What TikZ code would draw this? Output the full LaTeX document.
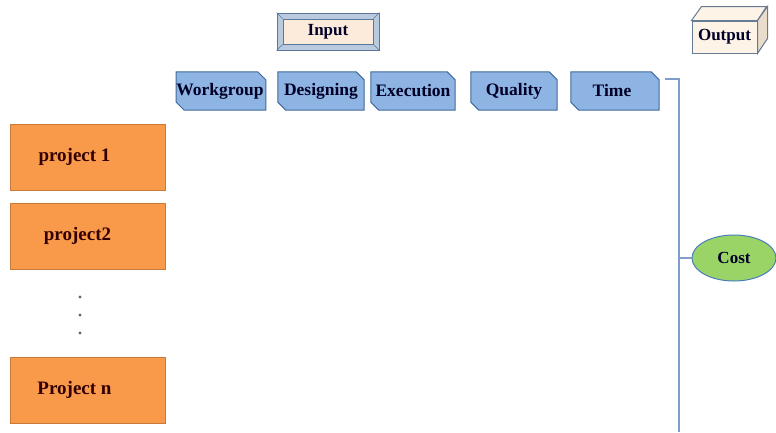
\documentclass[tikz,border=0pt]{standalone}
\usepackage{fontspec}
\setmainfont{Liberation Serif}
\usetikzlibrary{shapes.geometric,calc,backgrounds}
\definecolor{tabfill}{HTML}{8EB4E3}
\definecolor{tabline}{HTML}{41699B}
\definecolor{projfill}{HTML}{F9994A}
\definecolor{projline}{HTML}{C87A3A}
\definecolor{costfill}{HTML}{9BD466}
\definecolor{costline}{HTML}{4A7EBB}
\definecolor{brline}{HTML}{7F9CCB}
\definecolor{peach}{HTML}{FCEADB}
\definecolor{cubefront}{HTML}{FDF3E7}
\definecolor{cubeside}{HTML}{E9DCCB}
\definecolor{bevel}{HTML}{B9CADF}
\definecolor{btnline}{HTML}{5A789C}
\tikzset{
  tabbox/.style={rectangle, minimum height=38pt, inner sep=0pt,
    font=\fontsize{17.5}{19}\selectfont\bfseries, text=black!85!blue},
  tabshape/.style={draw=tabline, line width=1pt, fill=tabfill},
  projbox/.style={rectangle, draw=projline, line width=1pt, fill=projfill, minimum width=155pt,
    minimum height=66pt, inner sep=0pt, font=\fontsize{19}{21}\selectfont\bfseries, text=black!80!red},
  conn/.style={draw=brline, line width=2pt},
  lbl/.style={font=\fontsize{17}{19}\selectfont\bfseries, text=black!85!blue}
}
\begin{document}
\begin{tikzpicture}[x=1pt,y=-1pt]
\useasboundingbox (0,0) rectangle (776,432);
% Input button
\node[draw=btnline, line width=1pt, fill=bevel, minimum width=102pt, minimum height=37pt, inner sep=0pt] (inout) at (328,31.5) {};
\node[draw=btnline, line width=0.8pt, fill=peach, minimum width=90pt, minimum height=25pt, inner sep=0pt, lbl] (input) at (328,31.5) {Input};
\foreach \c in {north west,north east,south west,south east}
  \draw[btnline, line width=0.6pt] (inout.\c) -- (input.\c);
% Output cube
\node[draw=btnline!70!gray, line width=1pt, fill=cubefront, minimum width=65pt, minimum height=32pt, inner sep=0pt, lbl] (output) at (724.5,37) {Output};
\draw[btnline!70!gray, line width=1pt, fill=cubefront] (output.north west) -- ++(10,-14) -- ++(65,0) -- (output.north east) -- cycle;
\draw[btnline!70!gray, line width=1pt, fill=cubeside] (output.north east) -- ++(10,-14) -- ++(0,32) -- (output.south east) -- cycle;
% Tabs
\node[tabbox, minimum width=88pt] (work) at (221,91) {Workgroup\hspace*{2pt}};
\node[tabbox, minimum width=86pt] (des) at (321,91) {Designing};
\node[tabbox, minimum width=84pt] (exe) at (413,91) {Execution};
\node[tabbox, minimum width=86pt] (qual) at (514,91) {Quality};
\node[tabbox, minimum width=88pt] (time) at (615,91) {Time\hspace*{6pt}};
\begin{scope}[on background layer]
\foreach \n in {work,des,exe,qual,time}
  \draw[tabshape] (\n.north west) -- ($(\n.north east)+(-8,0)$) -- ($(\n.north east)+(0,8)$)
    -- (\n.south east) -- ($(\n.south west)+(8,0)$) -- ($(\n.south west)+(0,-8)$) -- cycle;
\end{scope}
% Projects
\node[projbox] (p1) at (87.5,157) {project 1\hspace*{26pt}};
\node[projbox] (p2) at (87.5,236) {project2\hspace*{20pt}};
\node[projbox] (pn) at (87.5,390) {Project n\hspace*{26pt}};
\foreach \yy in {297,315,333}
  \fill[black!60] (80,\yy) circle (1.7pt);
% Cost
\node[ellipse, draw=costline, line width=1pt, fill=costfill, minimum width=84pt, minimum height=46pt, inner sep=0pt, lbl] (cost) at (734,258) {Cost};
% Bracket
\coordinate (b1) at (665,79);
\coordinate (b2) at (679,79);
\coordinate (b3) at (679,432);
\draw[conn] (b1) -- (b2) -- (b3);
\draw[conn] (b2 |- cost) -- (cost.west);
\end{tikzpicture}
\end{document}
